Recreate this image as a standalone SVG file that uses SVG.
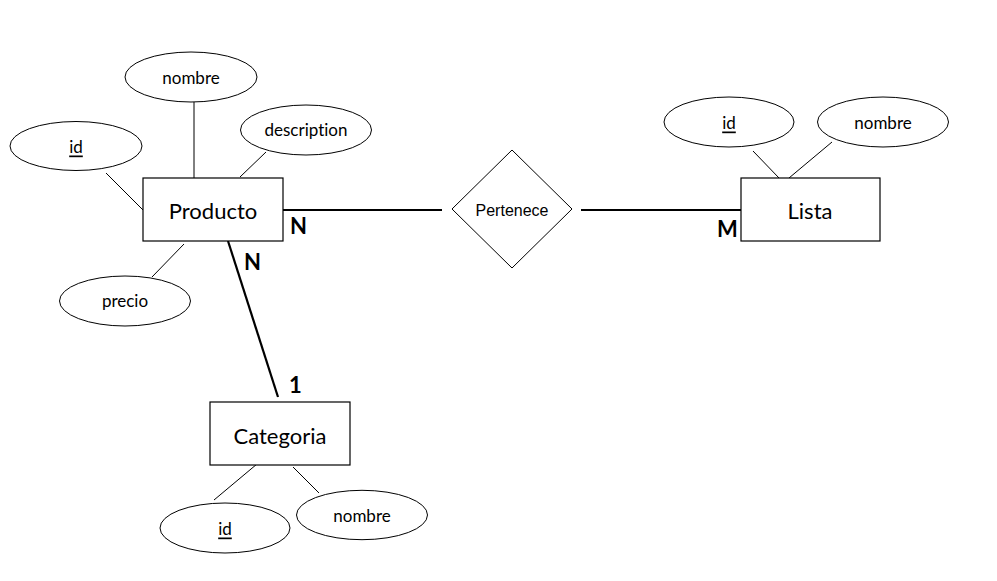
<svg xmlns="http://www.w3.org/2000/svg" width="997" height="581" viewBox="0 0 997 581">
<style>
.ent{fill:#fff;stroke:#000;stroke-width:1.2}
.att{fill:#fff;stroke:#000;stroke-width:1}
.al{stroke:#000;stroke-width:1;fill:none}
.rl{stroke:#000;stroke-width:2.2;fill:none}
.et{font-family:Lato,"Liberation Sans",sans-serif;font-size:22px;fill:#000;text-anchor:middle;dominant-baseline:central}
.at{font-family:Lato,"Liberation Sans",sans-serif;font-size:17px;fill:#000;text-anchor:middle;dominant-baseline:central;font-variant-ligatures:none}
.u{text-decoration:underline}
.rt{font-family:"Liberation Sans",Arial,sans-serif;font-size:16px;fill:#000;text-anchor:middle;dominant-baseline:central}
.card{font-family:Lato,"Liberation Sans",sans-serif;font-size:22px;font-weight:bold;fill:#000}
</style>
<rect width="997" height="581" fill="#fff"/>
<g id="connectors">
<line class="al" x1="194" y1="102" x2="194" y2="178"/>
<line class="al" x1="266" y1="152" x2="240" y2="177"/>
<line class="al" x1="106" y1="173" x2="143" y2="210"/>
<line class="al" x1="152" y1="277" x2="184" y2="244"/>
<line class="al" x1="753" y1="151" x2="779" y2="178"/>
<line class="al" x1="832" y1="142" x2="789" y2="178"/>
<line class="al" x1="214" y1="500" x2="257" y2="464"/>
<line class="al" x1="293" y1="467" x2="319" y2="493"/>
<line class="rl" x1="283" y1="210" x2="442" y2="210"/>
<line class="rl" x1="581" y1="210" x2="741" y2="210"/>
<line class="rl" x1="228" y1="241" x2="278" y2="397"/>
<text class="card" x="290" y="234">N</text>
<text class="card" x="717" y="237">M</text>
<text class="card" x="244" y="270">N</text>
<text class="card" x="289" y="393">1</text>
</g>
<g id="producto">
<rect class="ent" x="143" y="178" width="140" height="63"/>
<text class="et" x="213" y="210">Producto</text>
</g>
<g id="producto-nombre">
<ellipse class="att" cx="191" cy="77" rx="66" ry="25"/>
<text class="at" x="191" y="77">nombre</text>
</g>
<g id="producto-description">
<ellipse class="att" cx="306" cy="130" rx="65.5" ry="25"/>
<text class="at" x="306" y="129">description</text>
</g>
<g id="producto-id">
<ellipse class="att" cx="76" cy="146" rx="66" ry="24.5"/>
<text class="at u" x="76" y="146">id</text>
</g>
<g id="producto-precio">
<ellipse class="att" cx="125" cy="301" rx="65.5" ry="25"/>
<text class="at" x="125" y="300">precio</text>
</g>
<g id="pertenece">
<polygon class="att" points="512,150 572,209 512,268 452,209"/>
<text class="rt" x="512" y="210">Pertenece</text>
</g>
<g id="lista">
<rect class="ent" x="741" y="178" width="139" height="63"/>
<text class="et" x="810" y="210">Lista</text>
</g>
<g id="lista-id">
<ellipse class="att" cx="729" cy="122" rx="65" ry="25"/>
<text class="at u" x="729" y="122">id</text>
</g>
<g id="lista-nombre">
<ellipse class="att" cx="883" cy="122" rx="65.5" ry="25"/>
<text class="at" x="883" y="122">nombre</text>
</g>
<g id="categoria">
<rect class="ent" x="210" y="402" width="140" height="63"/>
<text class="et" x="280" y="435">Categoria</text>
</g>
<g id="categoria-id">
<ellipse class="att" cx="225" cy="528" rx="65" ry="25"/>
<text class="at u" x="225" y="528">id</text>
</g>
<g id="categoria-nombre">
<ellipse class="att" cx="362" cy="515" rx="65.5" ry="24.7"/>
<text class="at" x="362" y="515">nombre</text>
</g>
</svg>
